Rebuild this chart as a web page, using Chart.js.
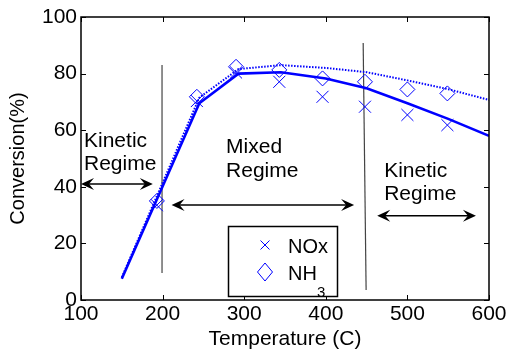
<!DOCTYPE html>
<html><head><meta charset="utf-8">
<script src="https://cdn.jsdelivr.net/npm/chart.js@4/dist/chart.umd.min.js"></script>
<style>html,body{margin:0;padding:0;background:#fff;} #wrap{width:510px;height:352px;position:relative;} canvas{display:block;}</style>
</head><body><div id="wrap"><canvas id="c" width="510" height="352" style="width:510px;height:352px"></canvas></div>
<script>
// ---- data ----
const expTemps    = [193, 242, 290, 343, 396, 448, 500, 549];
const noxMeasured = [33.5, 70.3, 80.4, 77.1, 71.8, 68.3, 65.4, 61.8];
const nh3Measured = [35.0, 71.8, 82.4, 81.3, 78.3, 77.1, 74.4, 73.0];
const modelTemps  = [150, 245, 293, 345, 400, 450, 500, 550, 600];
const noxModel    = [7.5, 69.5, 80.0, 80.5, 78.3, 74.8, 69.5, 64.0, 58.0];
const nh3Model    = [8.0, 71.5, 81.6, 83.0, 82.0, 80.5, 77.6, 74.5, 70.7];
const xTicks = [100, 200, 300, 400, 500, 600];
const yTicks = [0, 20, 40, 60, 80, 100];
const seriesNames = ["NOx", "NH"];
const regionLabels = [["Kinetic", "Regime"], ["Mixed", "Regime"], ["Kinetic", "Regime"]];

// annotation geometry (data coordinates)
const regionText = [ {x:103.7, y:[54.1, 45.9]}, {x:277.8, y:[51.9, 43.5]}, {x:471.5, y:[43.5, 35.3]} ];
const dividers = [ [[199.3, 83], [199.3, 9.5]], [[445.8, 90.8], [449.4, 3.5]] ];
const arrows = [ [[100, 41], [188, 41]], [[211, 33.6], [434.7, 33.6]], [[463, 29.8], [584, 29.8]] ];

const FONT = "'Liberation Sans', Arial, Helvetica, sans-serif";
const BLUE = '#0000ff';
const pts = (xs, ys) => xs.map((x, i) => ({x, y: ys[i]}));

function arrowHead(ctx, tx, ty, dir) {
  const L = 13, W = 6, N = 8;
  ctx.beginPath();
  ctx.moveTo(tx, ty);
  ctx.lineTo(tx - dir * L, ty - W);
  ctx.lineTo(tx - dir * N, ty);
  ctx.lineTo(tx - dir * L, ty + W);
  ctx.closePath();
  ctx.fill();
}

const annot = {
  id: 'annot',
  beforeDatasetsDraw(chart) {
    const {ctx, scales: {x, y}} = chart;
    ctx.save();
    ctx.strokeStyle = '#444';
    ctx.lineWidth = 1.2;
    dividers.forEach(([a, b]) => {
      ctx.beginPath();
      ctx.moveTo(x.getPixelForValue(a[0]), y.getPixelForValue(a[1]));
      ctx.lineTo(x.getPixelForValue(b[0]), y.getPixelForValue(b[1]));
      ctx.stroke();
    });
    ctx.restore();
  },
  afterDraw(chart) {
    const {ctx, chartArea: ca, scales: {x, y}} = chart;
    ctx.save();
    ctx.strokeStyle = '#000';
    ctx.lineWidth = 1.5;
    ctx.strokeRect(ca.left, ca.top, ca.right - ca.left, ca.bottom - ca.top);
    ctx.lineWidth = 1;
    const tl = 5;
    xTicks.forEach(v => {
      const px = Math.round(x.getPixelForValue(v)) + 0.5;
      ctx.beginPath();
      ctx.moveTo(px, ca.bottom); ctx.lineTo(px, ca.bottom - tl);
      ctx.moveTo(px, ca.top); ctx.lineTo(px, ca.top + tl);
      ctx.stroke();
    });
    yTicks.forEach(v => {
      const py = Math.round(y.getPixelForValue(v)) + 0.5;
      ctx.beginPath();
      ctx.moveTo(ca.left, py); ctx.lineTo(ca.left + tl, py);
      ctx.moveTo(ca.right, py); ctx.lineTo(ca.right - tl, py);
      ctx.stroke();
    });
    ctx.fillStyle = '#000';
    ctx.lineWidth = 1.5;
    arrows.forEach(([a, b]) => {
      const x1 = x.getPixelForValue(a[0]), y1 = y.getPixelForValue(a[1]);
      const x2 = x.getPixelForValue(b[0]), y2 = y.getPixelForValue(b[1]);
      ctx.beginPath();
      ctx.moveTo(x1 + 6, y1); ctx.lineTo(x2 - 6, y2);
      ctx.stroke();
      arrowHead(ctx, x1, y1, -1);
      arrowHead(ctx, x2, y2, 1);
    });
    ctx.font = '21px ' + FONT;
    ctx.textAlign = 'left';
    ctx.textBaseline = 'alphabetic';
    regionText.forEach((r, i) => {
      regionLabels[i].forEach((t, j) => {
        ctx.fillText(t, x.getPixelForValue(r.x), y.getPixelForValue(r.y[j]));
      });
    });
    const bx = 228.5, by = 226.5, bw = 109, bh = 70;
    ctx.fillStyle = '#fff';
    ctx.fillRect(bx, by, bw, bh);
    ctx.strokeStyle = '#000';
    ctx.lineWidth = 1.5;
    ctx.strokeRect(bx, by, bw, bh);
    ctx.strokeStyle = BLUE;
    ctx.lineWidth = 1;
    const mx = 265, m1 = 245, m2 = 272;
    ctx.beginPath();
    ctx.moveTo(mx - 4.5, m1 - 4.5); ctx.lineTo(mx + 4.5, m1 + 4.5);
    ctx.moveTo(mx + 4.5, m1 - 4.5); ctx.lineTo(mx - 4.5, m1 + 4.5);
    ctx.stroke();
    ctx.beginPath();
    ctx.moveTo(mx, m2 - 9); ctx.lineTo(mx + 7.5, m2); ctx.lineTo(mx, m2 + 9); ctx.lineTo(mx - 7.5, m2); ctx.closePath();
    ctx.stroke();
    ctx.fillStyle = '#000';
    ctx.font = '20px ' + FONT;
    ctx.fillText(seriesNames[0], 288, 253);
    ctx.fillText(seriesNames[1], 288, 280);
    const w = ctx.measureText(seriesNames[1]).width;
    ctx.font = '15px ' + FONT;
    ctx.fillText('3', 288 + w, 297);
    ctx.restore();
  }
};

new Chart(document.getElementById('c'), {
  type: 'scatter',
  data: {
    datasets: [
      { label: 'NOx model', data: pts(modelTemps, noxModel), showLine: true, borderColor: BLUE, borderWidth: 2.6, pointRadius: 0, fill: false, tension: 0 },
      { label: 'NH3 model', data: pts(modelTemps, nh3Model), showLine: true, borderColor: BLUE, borderWidth: 2, borderDash: [1.5, 1.5], pointRadius: 0, fill: false, tension: 0 },
      { label: 'NOx', data: pts(expTemps, noxMeasured), showLine: false, pointStyle: 'crossRot', pointRadius: 8.5, borderColor: BLUE, borderWidth: 1, backgroundColor: 'rgba(0,0,0,0)' },
      { label: 'NH3', data: pts(expTemps, nh3Measured), showLine: false, pointStyle: 'rectRot', pointRadius: 7.5, borderColor: BLUE, borderWidth: 1, backgroundColor: 'rgba(0,0,0,0)' }
    ]
  },
  options: {
    responsive: false,
    maintainAspectRatio: false,
    animation: false,
    devicePixelRatio: 1,
    layout: { padding: { top: 17, right: 21, left: 0, bottom: 0 } },
    plugins: { legend: { display: false }, tooltip: { enabled: false } },
    elements: { point: { hoverRadius: 0 } },
    scales: {
      x: {
        type: 'linear', min: 100, max: 600,
        afterBuildTicks: s => { s.ticks = xTicks.map(v => ({value: v})); },
        afterFit: s => { s.height = 52; },
        grid: { display: false, drawTicks: false },
        border: { display: false },
        ticks: { color: '#000', font: { family: FONT, size: 21 }, padding: 2, maxRotation: 0 },
        title: { display: true, text: 'Temperature (C)', color: '#000', font: { family: FONT, size: 21 }, padding: { top: 0, bottom: 0 } }
      },
      y: {
        type: 'linear', min: 0, max: 100,
        afterBuildTicks: s => { s.ticks = yTicks.map(v => ({value: v})); },
        afterFit: s => { s.width = 81; },
        grid: { display: false, drawTicks: false },
        border: { display: false },
        ticks: { color: '#000', font: { family: FONT, size: 21 }, padding: 4 },
        title: { display: true, text: 'Conversion(%)', color: '#000', font: { family: FONT, size: 20 }, padding: { top: 6, bottom: 0 } }
      }
    }
  },
  plugins: [annot]
});
</script>
</body></html>
